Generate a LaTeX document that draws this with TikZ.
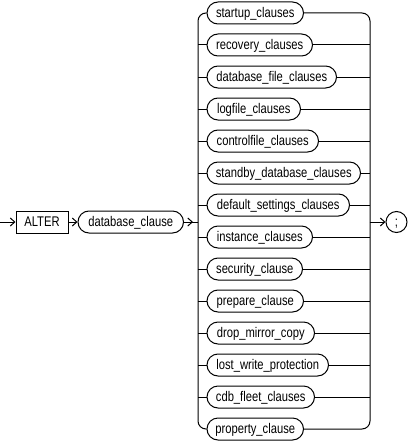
\documentclass[tikz,border=0pt]{standalone}
\usepackage{fontspec}
\newfontfamily\rrfont[FakeStretch=0.8]{Liberation Sans}
\usetikzlibrary{arrows.meta}
\begin{document}
\begin{tikzpicture}[x=1pt,y=-1pt,
  line width=1pt,
  arr/.style={-{Straight Barb[length=4.5pt,width=8pt]}},
  lbl/.style={font={\rrfont\fontsize{14pt}{16pt}\selectfont}, text height=10.5pt, text depth=1pt, inner ysep=0pt},
  nt/.style={lbl, draw, rectangle, rounded corners=11pt, minimum height=22pt, inner xsep=4pt, anchor=west},
  kw/.style={lbl, draw, rectangle, minimum height=22pt, minimum width=52pt, inner xsep=4pt},
  term/.style={lbl, draw, circle, minimum size=21pt, inner sep=0pt},
]
\useasboundingbox (0,0) rectangle (409,444);
\coordinate (start) at (0,222);
\node[kw] (alter) at (42,222) {ALTER};
\node[nt, minimum width=105.5pt] (db) at (77.5,222) {database\_clause};
\coordinate (jl) at (198,222);
\coordinate (jlarr) at (193,222);
\coordinate (jr) at (370,222);
\node[term] (semi) at (396.5,222) {;};
\foreach \nm/\txt/\w [count=\i from 0] in {
  startup/startup\_clauses/96.5,
  recovery/recovery\_clauses/105.5,
  dbfile/database\_file\_clauses/129.5,
  logfile/logfile\_clauses/93.5,
  controlfile/controlfile\_clauses/111.5,
  standby/standby\_database\_clauses/153.5,
  default/default\_settings\_clauses/142.5,
  instance/instance\_clauses/105.5,
  security/security\_clause/95.5,
  prepare/prepare\_clause/96.5,
  dropmirror/drop\_mirror\_copy/107.5,
  lost/lost\_write\_protection/121.5,
  cdb/cdb\_fleet\_clauses/107.5,
  property/property\_clause/96.5}
  \node[nt, minimum width=\w pt] (\nm) at (206.5,13+32*\i) {\txt};
\draw[arr] (start) -- (alter.west);
\draw[arr] (alter.east) -- (db.west);
\draw (db.east) -- (jl);
\draw[arr] (db.east) -- (jlarr);
\draw[rounded corners=8pt] (jl) |- (startup.west);
\draw[rounded corners=8pt] (jl) |- (property.west);
\draw[rounded corners=8pt] (startup.east) -| (jr);
\draw[rounded corners=8pt] (property.east) -| (jr);
\foreach \nm in {recovery,dbfile,logfile,controlfile,standby,default,instance,security,prepare,dropmirror,lost,cdb} {
  \draw (jl |- \nm.west) -- (\nm.west);
  \draw (\nm.east) -- (jr |- \nm.east);
}
\draw[arr] (jr) -- (semi.west);
\end{tikzpicture}
\end{document}
